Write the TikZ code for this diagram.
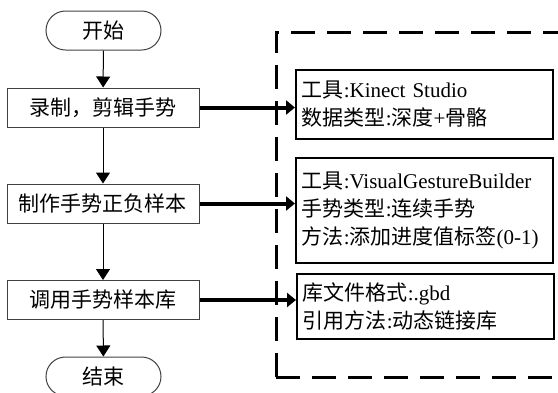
\documentclass[tikz,border=0pt]{standalone}
\usepackage{fontspec}
\setmainfont{Liberation Serif}
\newfontfamily\cjk{Noto Sans CJK SC}
\usetikzlibrary{arrows.meta}
\tikzset{
  stepbox/.style={draw=black!75, line width=1pt, minimum width=192pt, minimum height=39pt,
    inner sep=0pt, font=\fontsize{21}{24}\selectfont\cjk},
  termbox/.style={draw=black!75, line width=1pt, minimum width=115pt, minimum height=39pt,
    rounded corners=19.5pt, inner sep=0pt, font=\fontsize{21}{24}\selectfont\cjk},
  infobox/.style={draw=black, line width=1.5pt, inner xsep=6pt, inner ysep=0pt,
    align=left, anchor=north west, font=\fontsize{21}{28}\selectfont},
  flow/.style={draw=black, line width=1pt, -{Triangle[length=11pt,width=14pt]}},
  feed/.style={draw=black, line width=4pt, -{Triangle[length=9pt,width=14pt]}},
  frame/.style={draw=black, line width=3pt, dash pattern=on 24pt off 12pt}
}
\begin{document}
\begin{tikzpicture}[x=1pt,y=-1pt]
  \useasboundingbox (0,0) rectangle (558,392);
  \clip (0,0) rectangle (558,392);

  % dashed frame around the tool notes
  \draw[frame] (276,377) -- (276,32) -- (600,32);
  \draw[frame] (276,377) -- (600,377);

  % main flow
  \node[termbox] (start) at (103.5,30.5) {开始};
  \node[stepbox] (rec)   at (103,107.5) {录制，剪辑手势};
  \node[stepbox] (make)  at (103,203.5) {制作手势正负样本};
  \node[stepbox] (call)  at (103,300)   {调用手势样本库};
  \node[termbox] (stop)  at (103.5,376.5) {结束};

  % notes
  \node[infobox, minimum width=257pt, minimum height=69pt, text width=245pt] (n1) at (295,69)
    {{\cjk 工具}:Kinect Studio\\{\cjk 数据类型}:{\cjk 深度}+{\cjk 骨骼}};
  \node[infobox, minimum width=257pt, minimum height=105pt, text width=245pt] (n2) at (295,157)
    {{\cjk 工具}:VisualGestureBuilder\\{\cjk 手势类型}:{\cjk 连续手势}\\{\cjk 方法}:{\cjk 添加进度值标签}(0-1)};
  \node[infobox, minimum width=257pt, minimum height=65pt, text width=245pt] (n3) at (296,273)
    {{\cjk 库文件格式}:.gbd\\{\cjk 引用方法}:{\cjk 动态链接库}};

  \draw[flow] (start) -- (rec);
  \draw[flow] (rec) -- (make);
  \draw[flow] (make) -- (call);
  \draw[flow] (call) -- (stop);

  \draw[feed] (rec.east) -- (rec.east -| n1.west);
  \draw[feed] (make.east) -- (make.east -| n2.west);
  \draw[feed] (call.east) -- (call.east -| n3.west);
\end{tikzpicture}
\end{document}
